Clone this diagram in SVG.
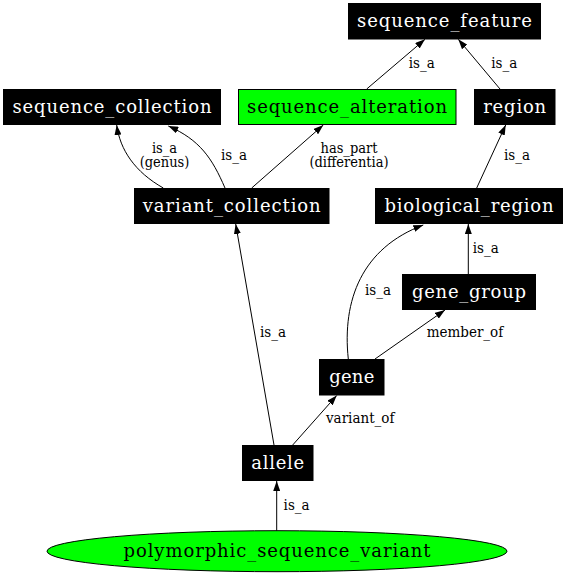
<svg xmlns="http://www.w3.org/2000/svg" width="567" height="576" viewBox="0 0 567 576">
<defs>
<marker id="arr" markerUnits="userSpaceOnUse" markerWidth="10" markerHeight="7" refX="10" refY="3.5" orient="auto">
<path d="M0,0 L10,3.5 L0,7 z" fill="#000"/>
</marker>
<style>
.box{fill:#000;stroke:#000;stroke-width:1}
.green{fill:#00ff00;stroke:#000;stroke-width:1}
.nl{font-family:"DejaVu Serif",serif;font-size:18px;fill:#fff;text-anchor:middle}
.nd{font-family:"DejaVu Serif",serif;font-size:18px;fill:#000;text-anchor:middle}
.el{font-family:"DejaVu Serif Condensed","DejaVu Serif",serif;font-stretch:condensed;font-size:15px;fill:#000}
.em{font-family:"DejaVu Serif Condensed","DejaVu Serif",serif;font-stretch:condensed;font-size:14.5px;fill:#000;text-anchor:middle}
.e{fill:none;stroke:#000;stroke-width:1;marker-end:url(#arr)}
</style>
</defs>
<rect width="567" height="576" fill="#fff"/>
<g id="connectors">
<path class="e" d="M366.7,89 L425,39.3"/>
<text class="el" x="408.7" y="68">is_a</text>
<path class="e" d="M500,89 L458.3,39.3"/>
<text class="el" x="491.3" y="68">is_a</text>
<path class="e" d="M163.3,188 C135,172 120,150 116.7,125"/>
<text class="em" x="164.5" y="152.5">is_a</text>
<text class="em" x="164.5" y="167">(genus)</text>
<path class="e" d="M225,188 C212,158 200,140 168.3,126"/>
<text class="el" x="221" y="159.5">is_a</text>
<path class="e" d="M251.7,188 L323.3,125"/>
<text class="em" x="349" y="152.5">has_part</text>
<text class="em" x="349" y="167">(differentia)</text>
<path class="e" d="M476.7,188 L505.7,125"/>
<text class="el" x="504" y="160">is_a</text>
<path class="e" d="M274,445 L235.7,224"/>
<text class="el" x="260" y="337">is_a</text>
<path class="e" d="M292.7,445 L336.7,395.5"/>
<text class="el" x="326" y="423">variant_of</text>
<path class="e" d="M375,359 L445,310"/>
<text class="el" x="426.7" y="337">member_of</text>
<path class="e" d="M348.3,359 C342,300 362,248 423.3,225"/>
<text class="el" x="365" y="295">is_a</text>
<path class="e" d="M468.3,274 L468.3,224"/>
<text class="el" x="472.7" y="253">is_a</text>
<path class="e" d="M276.7,530.7 L276.7,481"/>
<text class="el" x="283.6" y="510">is_a</text>
</g>
<g id="sequence_feature"><rect class="box" x="348.5" y="3.5" width="192" height="35.5"/><text class="nl" x="444.5" y="27" textLength="175" lengthAdjust="spacing">sequence_feature</text></g>
<g id="sequence_collection"><rect class="box" x="3.5" y="89.5" width="217" height="35"/><text class="nl" x="112" y="113" textLength="199" lengthAdjust="spacing">sequence_collection</text></g>
<g id="sequence_alteration"><rect class="green" x="238.5" y="89.5" width="217.5" height="35"/><text class="nd" x="347" y="113" textLength="200" lengthAdjust="spacing">sequence_alteration</text></g>
<g id="region"><rect class="box" x="474.5" y="89.5" width="80.5" height="35"/><text class="nl" x="514.7" y="113" textLength="63" lengthAdjust="spacing">region</text></g>
<g id="variant_collection"><rect class="box" x="134.5" y="188.5" width="194.5" height="35"/><text class="nl" x="231.7" y="212" textLength="178" lengthAdjust="spacing">variant_collection</text></g>
<g id="biological_region"><rect class="box" x="375.5" y="188.5" width="187" height="35"/><text class="nl" x="469" y="212" textLength="169" lengthAdjust="spacing">biological_region</text></g>
<g id="gene_group"><rect class="box" x="402.5" y="274.5" width="133" height="35"/><text class="nl" x="469" y="298" textLength="114" lengthAdjust="spacing">gene_group</text></g>
<g id="gene"><rect class="box" x="319.5" y="359.5" width="64.5" height="35.5"/><text class="nl" x="351.8" y="383" textLength="45" lengthAdjust="spacing">gene</text></g>
<g id="allele"><rect class="box" x="242.5" y="445.5" width="70.5" height="35"/><text class="nl" x="277.7" y="469" textLength="53" lengthAdjust="spacing">allele</text></g>
<g id="polymorphic_sequence_variant"><ellipse cx="277" cy="551.2" rx="230" ry="20.5" fill="#00ff00" stroke="#000" stroke-width="1"/><text class="nd" x="277" y="557" textLength="307" lengthAdjust="spacing">polymorphic_sequence_variant</text></g>
</svg>
